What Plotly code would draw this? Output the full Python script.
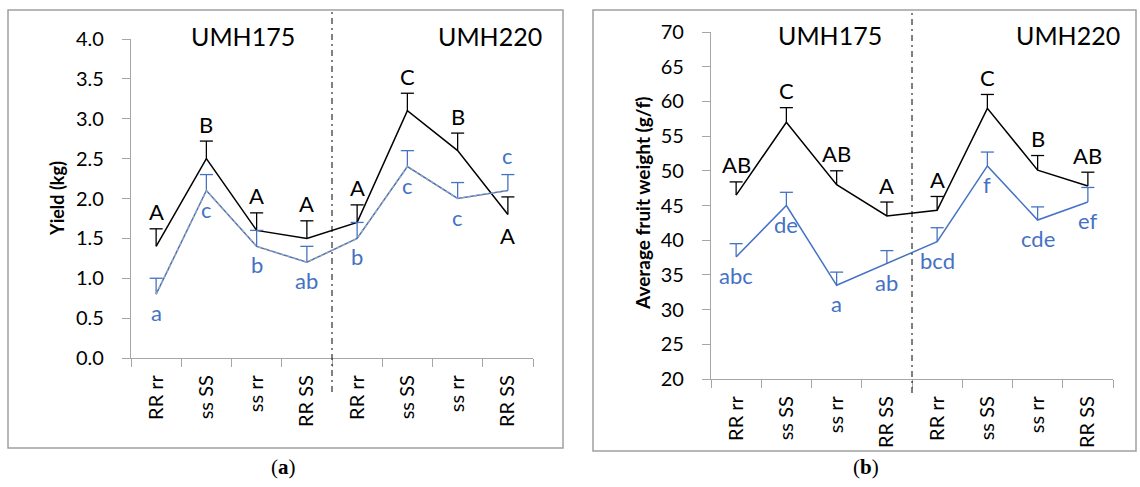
import plotly.graph_objects as go

# ---------------- data ----------------
categories = ["RR rr", "ss SS", "ss rr", "RR SS", "RR rr", "ss SS", "ss rr", "RR SS"]
groups = ["UMH175", "UMH220"]

yield_black = [1.4, 2.5, 1.6, 1.5, 1.7, 3.1, 2.6, 1.8]
yield_black_err = [0.22, 0.22, 0.22, 0.22, 0.22, 0.22, 0.22, 0.22]
yield_black_letters = ["A", "B", "A", "A", "A", "C", "B", "A"]

yield_blue = [0.8, 2.1, 1.4, 1.2, 1.5, 2.4, 2.0, 2.1]
yield_blue_err = [0.2, 0.2, 0.2, 0.2, 0.2, 0.2, 0.2, 0.2]
yield_blue_letters = ["a", "c", "b", "ab", "b", "c", "c", "c"]

weight_black = [46.5, 57.0, 48.0, 43.5, 44.3, 59.0, 50.1, 47.8]
weight_black_err = [1.9, 2.1, 2.0, 2.0, 2.0, 2.0, 2.1, 2.0]
weight_black_letters = ["AB", "C", "AB", "A", "A", "C", "B", "AB"]

weight_blue = [37.6, 45.0, 33.5, 36.6, 39.8, 50.7, 42.9, 45.5]
weight_blue_err = [1.9, 1.9, 1.9, 1.9, 2.0, 2.0, 1.9, 2.1]
weight_blue_letters = ["abc", "de", "a", "ab", "bcd", "f", "cde", "ef"]

# letter placement ("above" = over the error bar, "below" = under the point)
yield_black_place = ["above"] * 7 + ["below"]
yield_blue_place = ["below"] * 7 + ["above"]
weight_black_place = ["above"] * 8
weight_blue_place = ["below"] * 8

# ---------------- style ----------------
W, H = 1140, 487
BLUE = "#4472C4"
BLACK = "#000000"
AX = "#A6A6A6"
FONT = "Lato"

def px(x):
    return x / W

def py(y):
    return (H - y) / H

fig = go.Figure()

def err_path(vals, errs, half=0.13):
    xs, ys = [], []
    for i, (v, e) in enumerate(zip(vals, errs)):
        xs += [i, i, None, i - half, i + half, None]
        ys += [v, v + e, None, v + e, v + e, None]
    return xs, ys

xpos = list(range(len(categories)))

def add_series(vals, errs, color, xa, ya, overlay=False):
    ex, ey = err_path(vals, errs)
    fig.add_trace(go.Scatter(x=ex, y=ey, mode="lines", line=dict(color=color, width=1.3),
                             xaxis=xa, yaxis=ya, showlegend=False, hoverinfo="skip"))
    fig.add_trace(go.Scatter(x=xpos, y=vals, mode="lines", line=dict(color=color, width=1.5),
                             xaxis=xa, yaxis=ya, showlegend=False))
    if overlay:
        fig.add_trace(go.Scatter(x=xpos, y=vals, mode="lines",
                                 line=dict(color="#A5A5A5", width=1.5, dash="3px,3px"),
                                 xaxis=xa, yaxis=ya, showlegend=False, hoverinfo="skip"))

add_series(yield_black, yield_black_err, BLACK, "x", "y")
add_series(yield_blue, yield_blue_err, BLUE, "x", "y", overlay=True)
add_series(weight_black, weight_black_err, BLACK, "x2", "y2")
add_series(weight_blue, weight_blue_err, BLUE, "x2", "y2")

annotations = []

def add_letters(vals, errs, letters, places, color, xa, ya):
    for i, (v, e, t, p) in enumerate(zip(vals, errs, letters, places)):
        lower = t.islower()
        if p == "above":
            y = v + e
            shift = 17 + (2.5 if lower else 0)
        else:
            y = v
            shift = -21 + (2.5 if lower else 0)
        annotations.append(dict(x=i, y=y, xref=xa, yref=ya, text=t, showarrow=False,
                                yanchor="middle", xanchor="center", yshift=shift,
                                font=dict(family=FONT, size=22, color=color)))

add_letters(yield_black, yield_black_err, yield_black_letters, yield_black_place, BLACK, "x", "y")
add_letters(yield_blue, yield_blue_err, yield_blue_letters, yield_blue_place, BLUE, "x", "y")
add_letters(weight_black, weight_black_err, weight_black_letters, weight_black_place, BLACK, "x2", "y2")
add_letters(weight_blue, weight_blue_err, weight_blue_letters, weight_blue_place, BLUE, "x2", "y2")

def paper_text(x, y, text, size, family=FONT, angle=0):
    annotations.append(dict(x=px(x), y=py(y), xref="paper", yref="paper", text=text,
                            showarrow=False, xanchor="center", yanchor="middle",
                            textangle=angle, font=dict(family=family, size=size, color=BLACK)))

# group labels
for xc, g in zip([243, 490], groups):
    paper_text(xc, 36, g, 25)
for xc, g in zip([830, 1068], groups):
    paper_text(xc, 35, g, 25)

# axis titles
paper_text(57, 199, "<b>Yield (kg)</b>", 18, angle=-90)
paper_text(642, 203, "<b>Average fruit weight (g/f)</b>", 19, angle=-90)

# captions
paper_text(283, 467, "(<b>a</b>)", 21, family="Liberation Serif")
paper_text(866, 467, "(<b>b</b>)", 21, family="Liberation Serif")

shapes = [
    dict(type="rect", xref="paper", yref="paper", x0=px(8), x1=px(563), y0=py(448), y1=py(10),
         line=dict(color="#A0A0A0", width=1.5)),
    dict(type="rect", xref="paper", yref="paper", x0=px(593), x1=px(1136), y0=py(451), y1=py(10),
         line=dict(color="#A0A0A0", width=1.5)),
    dict(type="line", xref="x", yref="paper", x0=3.5, x1=3.5, y0=py(392), y1=py(10),
         line=dict(color=BLACK, width=1, dash="6px,4px,2px,4px")),
    dict(type="line", xref="x2", yref="paper", x0=3.5, x1=3.5, y0=py(393), y1=py(10),
         line=dict(color=BLACK, width=1, dash="6px,4px,2px,4px")),
]

xaxis_common = dict(range=[-0.5, 7.5], tickmode="array", tickvals=xpos, ticktext=categories,
                    tickangle=-90, ticks="", showgrid=False, zeroline=False, showline=True,
                    linecolor=AX, linewidth=1.3, ticklabelstandoff=8,
                    tickfont=dict(family=FONT, size=20, color=BLACK),
                    minor=dict(tick0=0.5, dtick=1, ticks="outside", ticklen=8, tickcolor=AX,
                               tickwidth=1.3, showgrid=False),
                    fixedrange=True)
yaxis_common = dict(showgrid=False, zeroline=False, showline=True, linecolor=AX, linewidth=1.3,
                    ticks="outside", ticklen=8, tickcolor=AX, tickwidth=1.3,
                    ticklabelstandoff=14,
                    tickfont=dict(family=FONT, size=20, color=BLACK), fixedrange=True)

fig.update_layout(
    width=W, height=H,
    margin=dict(l=0, r=0, t=0, b=0, autoexpand=False),
    paper_bgcolor="white", plot_bgcolor="white",
    showlegend=False,
    xaxis=dict(domain=[px(131), px(533)], anchor="y", **xaxis_common),
    yaxis=dict(domain=[py(358), py(39)], anchor="x", range=[0, 4], dtick=0.5, tick0=0,
               tickformat=".1f", **yaxis_common),
    xaxis2=dict(domain=[px(711), px(1113)], anchor="y2", **xaxis_common),
    yaxis2=dict(domain=[py(379), py(32)], anchor="x2", range=[20, 70], dtick=5, tick0=20,
                **yaxis_common),
    annotations=annotations,
    shapes=shapes,
)

fig.write_html("out.html", config={"displayModeBar": False},
               post_script="document.body.style.margin='0px';")
